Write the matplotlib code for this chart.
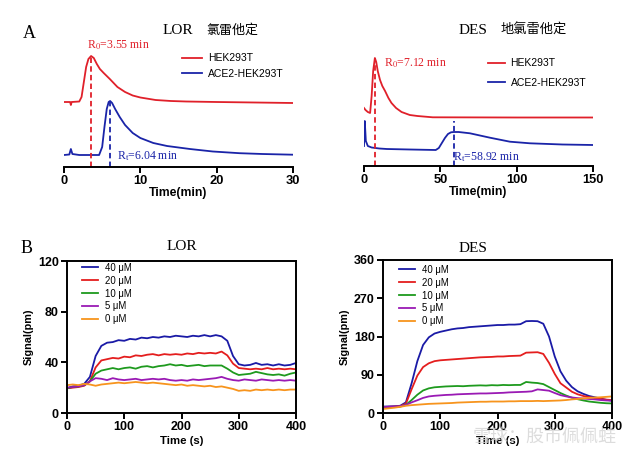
import numpy as np
import matplotlib
matplotlib.use("Agg")
import matplotlib.pyplot as plt

plt.rcParams["font.family"] = ["Liberation Sans", "Noto Sans CJK SC"]
plt.rcParams["mathtext.fontset"] = "stix"

# ---- panel A: chromatograms (relative signal, arbitrary units) ----
lor_t_hek = [0, 0.8, 0.9, 1.0, 2.0, 2.3, 2.6, 2.9, 3.2, 3.55, 3.9, 4.3, 4.7, 5.2, 5.6,
             6.0, 6.5, 7.0, 8.0, 9.0, 10, 12, 14, 16, 20, 25, 30]
lor_hek = [65, 65, 62, 65, 65.5, 70, 85, 100, 108, 111, 109, 103, 98, 94, 91,
           88, 84, 80, 75, 71.5, 69.5, 67, 66, 65.5, 65, 64.5, 64]
lor_t_ace = [0, 0.7, 0.9, 1.1, 2.0, 4.6, 5.0, 5.3, 5.6, 5.85, 6.04, 6.3, 6.7, 7.3, 8.0,
             9.0, 10, 11.7, 13.5, 16.5, 19.5, 23, 26, 30]
lor_ace = [12, 12.5, 18, 13, 12, 12, 20, 40, 58, 65, 66, 64, 58, 50, 42,
           34, 29, 24, 21, 18, 15.5, 13.8, 13, 12.3]

des_t_hek = [0, 1, 2.5, 4, 5, 6, 7.12, 8, 9, 10.5, 12, 13.8, 16, 18, 21, 24.6,
             30, 35, 45, 100, 150]
des_hek = [58, 56, 54, 53, 70, 95, 108, 104, 95, 86, 80, 75, 68, 63, 58, 54,
           51, 50, 48.7, 48.5, 48.5]
des_t_ace = [0, 0.5, 1.2, 2.5, 5, 10, 15, 30, 47, 49, 51, 53, 55, 57, 58.92, 62,
             66, 69.4, 82.5, 95.6, 108.7, 130, 150]
des_ace = [20, 45, 25, 20, 18.5, 17.5, 17, 16.5, 16, 18, 23, 28, 32, 33.7, 34, 34,
           33.3, 32.7, 28.3, 24.3, 22.7, 21.5, 21]

lor_r0, lor_rt = 3.55, 6.04
des_r0, des_rt = 7.12, 58.92

# ---- panel B: binding curves ----
time_s = np.arange(0, 401, 10)
conc_labels = ["40 \u03bcM", "20 \u03bcM", "10 \u03bcM", "5 \u03bcM", "0 \u03bcM"]
conc_colors = ["#1a1aa6", "#e41e1e", "#1e9a1e", "#9a1ab4", "#f7941d"]

lor_40 = [19.5, 21, 21.5, 23, 28.5, 45, 53, 55.5, 56, 57.5, 57, 58.5, 58, 59.5, 59, 60,
          59.5, 60.5, 60, 61, 60.5, 60, 61, 60.5, 61.5, 60.5, 61.5, 60.5, 57, 45, 38.5,
          37.5, 38, 39.5, 38, 38.5, 37.5, 38.5, 37.5, 38, 39.5]
lor_20 = [19.5, 20, 20.5, 21.5, 25, 36, 41.5, 42.5, 43.5, 43, 44.5, 44, 45.5, 45, 46, 46.5,
          45.5, 46.5, 46, 46.5, 46, 47, 46.5, 47.5, 47, 47.5, 47, 48.5, 45.5, 39, 35.5,
          35, 34.5, 35, 34.5, 35.5, 34.5, 35, 34.5, 35, 34.5]
lor_10 = [19.5, 20.5, 21, 22, 25, 31, 33.5, 34.5, 35.5, 34.5, 35.5, 36, 35, 36.5, 37, 36,
          37, 37.5, 38.5, 37.5, 38, 37, 37.5, 38, 37, 37.5, 37.5, 37.5, 35, 32, 30,
          30.5, 31, 32.5, 31.5, 30.5, 30, 30.5, 29.5, 31, 32]
lor_5 = [20, 20.5, 21, 22, 25, 27.5, 27, 26, 27.5, 26.5, 26, 26.5, 27, 26, 26.5, 27,
         26.5, 27, 26, 25.5, 26, 25.5, 26.5, 26, 26.5, 27, 27.5, 28.5, 27, 26, 25.5,
         26.5, 26, 25.5, 26.5, 26, 25.5, 26, 25.5, 26, 25.5]
lor_0 = [22, 22.5, 22, 23, 22.5, 21.5, 22.5, 23, 23.5, 24, 23.5, 24, 24.5, 24, 23.5, 24,
         23.5, 23, 22.5, 22, 22.5, 21.5, 22, 21.5, 21, 21.5, 20.5, 21, 20, 19, 17.5,
         18, 17.5, 18.5, 18, 18.5, 18, 18.5, 18, 18.5, 18.5]

des_40 = [15, 15.5, 16, 17, 25, 70, 122, 160, 178, 187, 191, 194, 197, 199, 200, 202,
          203, 204, 205, 206, 207, 207, 208, 208, 209, 216, 216.5, 216, 210, 180, 133,
          98, 76, 61, 51, 45, 40, 37, 34, 31, 29]
des_20 = [14, 14.5, 15, 16, 22, 56, 88, 108, 117, 122, 124, 125, 126, 127, 128, 129,
          130, 131, 131.5, 132, 133, 133, 134, 134.5, 135, 142, 142.5, 143, 139, 118, 92,
          70, 60, 50, 44, 40, 37.5, 35, 33, 31.5, 30.5]
des_10 = [13, 13.5, 14, 15, 19, 30.5, 43, 53, 58, 60.5, 61.5, 62.5, 63, 63.5, 63, 64,
          64.5, 65, 64.5, 65.5, 65, 66, 65.5, 66, 66, 73, 71.5, 70.5, 68, 61, 54,
          47, 41, 36, 32.5, 29.5, 27, 25.5, 24, 23, 22.5]
des_5 = [14, 14.5, 15, 16, 19, 25, 30, 35.5, 39, 40.5, 41.5, 42.5, 43, 44, 44.5, 45,
         45.5, 46, 46, 46.5, 47, 47.5, 48.5, 49, 49.5, 50, 51, 55.5, 54, 52.5, 47,
         42, 39, 36.5, 35, 34, 33, 32, 30.5, 29.5, 29]
des_0 = [9.5, 11, 12.5, 14.5, 17, 18.5, 19.5, 20.5, 21.5, 22, 22.5, 23, 23.5, 24.5, 25, 25.5,
         26, 26.5, 26.5, 27, 27, 27, 27.5, 27.5, 28, 28, 28, 28.5, 28, 28.5, 29,
         29.5, 30.5, 32, 33, 34.5, 35.5, 36.5, 37, 38, 39]

W, H = 640, 458
fig = plt.figure(figsize=(6.4, 4.58), dpi=100)


def fx(px):
    return px / W


def fy(py):
    return 1 - py / H


red = "#e0202a"
blue = "#1a24a8"
serif_cjk = ["Liberation Serif", "Noto Sans CJK SC"]


def chrom_axes(rect, xmax, xticks, ymax):
    ax = fig.add_axes(rect)
    ax.set_xlim(0, xmax)
    ax.set_ylim(0, ymax)
    for s in ["left", "right", "top"]:
        ax.spines[s].set_visible(False)
    ax.spines["bottom"].set_linewidth(1.4)
    ax.yaxis.set_visible(False)
    ax.set_xticks(xticks)
    ax.tick_params(axis="x", direction="out", length=4, width=1.4, labelsize=9.3, pad=2)
    for lb in ax.get_xticklabels():
        lb.set_fontweight("bold")
    ax.set_xlabel("Time(min)", fontsize=8.8, fontweight="bold", labelpad=0)
    ax.patch.set_alpha(0)
    return ax


# A - LOR
ax1 = chrom_axes([fx(64), fy(167), fx(229), 127 / H], 30, [0, 10, 20, 30], 127)
l1, = ax1.plot(lor_t_hek, lor_hek, color=red, lw=1.3, label="HEK293T")
l2, = ax1.plot(lor_t_ace, lor_ace, color=blue, lw=1.3, label="ACE2-HEK293T")
ax1.plot([lor_r0, lor_r0], [0, max(lor_hek)], color=red, lw=1.3, ls=(0, (3, 1.8)))
ax1.plot([lor_rt, lor_rt], [0, max(lor_ace)], color=blue, lw=1.3, ls=(0, (3, 1.8)))
ax1.legend(handles=[l1, l2], loc="upper left", bbox_to_anchor=(fx(177), fy(48)),
           bbox_transform=fig.transFigure, frameon=False, fontsize=7.5,
           handlelength=1.9, handletextpad=0.58, labelspacing=0.56, borderpad=0)

# A - DES
ax2 = chrom_axes([fx(364), fy(166), fx(229), 126 / H], 150, [0, 50, 100, 150], 126)
l3, = ax2.plot(des_t_hek, des_hek, color=red, lw=1.3, label="HEK293T")
l4, = ax2.plot(des_t_ace, des_ace, color=blue, lw=1.3, label="ACE2-HEK293T")
ax2.plot([des_r0, des_r0], [0, max(des_hek)], color=red, lw=1.3, ls=(0, (3, 1.8)))
ax2.plot([des_rt, des_rt], [0, max(des_ace)], color=blue, lw=1.3, ls=(0, (3, 1.8)))
ax2.legend(handles=[l3, l4], loc="upper left", bbox_to_anchor=(fx(483), fy(53)),
           bbox_transform=fig.transFigure, frameon=False, fontsize=7.5,
           handlelength=1.65, handletextpad=0.5, labelspacing=0.94, borderpad=0)

fig.text(fx(29), fy(33), "A", fontsize=13, family="Liberation Serif", ha="center", va="center")
fig.text(fx(163), fy(30), "LOR", fontsize=11, family="Liberation Serif", va="center")
fig.text(fx(206), fy(30), "氯雷他定", fontsize=9.4, family=serif_cjk, va="center")
fig.text(fx(459), fy(30), "DES", fontsize=11, family="Liberation Serif", va="center")
fig.text(fx(501), fy(30), "地氯雷他定", fontsize=9.5, family=serif_cjk, va="center")

fig.text(fx(87), fy(45), r"R$_0$=3.55 min", fontsize=8.5, color=red,
         family="Liberation Serif", va="center")
fig.text(fx(117), fy(156), r"R$_\mathrm{t}$=6.04 min", fontsize=8.5, color=blue,
         family="Liberation Serif", va="center")
fig.text(fx(384), fy(63), r"R$_0$=7.12 min", fontsize=8.5, color=red,
         family="Liberation Serif", va="center")
fig.text(fx(453), fy(157), r"R$_\mathrm{t}$=58.92 min", fontsize=8.5, color=blue,
         family="Liberation Serif", va="center")


# B
def bind_axes(rect, ymax, yticks, series, leg_anchor):
    ax = fig.add_axes(rect)
    for vals, lab, col in zip(series, conc_labels, conc_colors):
        ax.plot(time_s, vals, color=col, lw=1.3, label=lab)
    ax.set_xlim(0, 400)
    ax.set_ylim(0, ymax)
    ax.set_xticks([0, 100, 200, 300, 400])
    ax.set_yticks(yticks)
    for s in ax.spines.values():
        s.set_linewidth(1.4)
    ax.tick_params(direction="out", length=4, width=1.4, labelsize=9, pad=2)
    for lb in ax.get_xticklabels() + ax.get_yticklabels():
        lb.set_fontweight("bold")
    ax.set_xlabel("Time (s)", fontsize=8.2, fontweight="bold", labelpad=2)
    ax.set_ylabel("Signal(pm)", fontsize=7.8, fontweight="bold", labelpad=3)
    ax.legend(loc="upper left", bbox_to_anchor=leg_anchor, bbox_transform=fig.transFigure,
              frameon=False, fontsize=6.9, handlelength=1.7, handletextpad=0.75,
              labelspacing=0.3, borderpad=0)
    return ax


ax3 = bind_axes([fx(67), fy(413), fx(229), 152 / H], 120, [0, 40, 80, 120],
                [lor_40, lor_20, lor_10, lor_5, lor_0], (fx(77), fy(258)))
ax4 = bind_axes([fx(383), fy(413), fx(229), 153 / H], 360, [0, 90, 180, 270, 360],
                [des_40, des_20, des_10, des_5, des_0], (fx(394), fy(260)))

fig.text(fx(182), fy(247), "LOR", fontsize=11, family="Liberation Serif", ha="center", va="center")
fig.text(fx(473), fy(249), "DES", fontsize=11, family="Liberation Serif", ha="center", va="center")
fig.text(fx(27), fy(248), "B", fontsize=13, family="Liberation Serif", ha="center", va="center")

# watermark
fig.text(fx(473), fy(437), "雪球：股市佩佩蛙", fontsize=13, color="#d4d4d4", alpha=0.8,
         family=["Noto Sans CJK SC"], va="center")

fig.savefig("out.png", dpi=100)
